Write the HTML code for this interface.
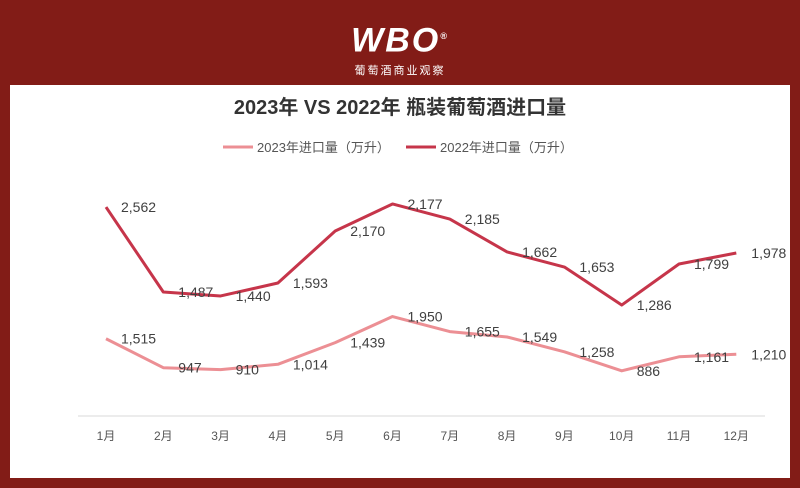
<!DOCTYPE html>
<html><head><meta charset="utf-8"><style>
body{margin:0;width:800px;height:488px;background:#821c17;font-family:"Liberation Sans","Noto Sans CJK SC",sans-serif;overflow:hidden}
#panel{position:absolute;left:10px;top:85px;width:780px;height:393px;background:#fff}
</style></head><body>
<div style="position:absolute;left:0;top:18px;width:800px;text-align:center;color:#fff">
<div style="font:italic bold 34px 'Liberation Sans',sans-serif;letter-spacing:2px;line-height:36px">WBO<sup style="font-size:9px">®</sup></div>
<div style="font-size:11px;letter-spacing:2px;margin-top:4px">葡萄酒商业观察</div></div>
<div id="panel"></div>
<svg width="800" height="488" style="position:absolute;left:0;top:0" id="chart">
<text x="400" y="114" text-anchor="middle" font-size="20" font-weight="bold" fill="#333">2023年 VS 2022年 瓶装葡萄酒进口量</text>
<g><line x1="223" y1="147" x2="253" y2="147" stroke="#ec8f94" stroke-width="3"/><text x="257" y="152" font-size="13" fill="#555">2023年进口量（万升）</text></g>
<g><line x1="406" y1="147" x2="436" y2="147" stroke="#c6354a" stroke-width="3"/><text x="440" y="152" font-size="13" fill="#555">2022年进口量（万升）</text></g>
<line x1="78" y1="416" x2="765" y2="416" stroke="#d9d9d9" stroke-width="1"/>
</svg>
<script>
const months=["1月","2月","3月","4月","5月","6月","7月","8月","9月","10月","11月","12月"];
const values2023=[1515,947,910,1014,1439,1950,1655,1549,1258,886,1161,1210];
const labels2023=["1,515","947","910","1,014","1,439","1,950","1,655","1,549","1,258","886","1,161","1,210"];
const values2022=[2562,1456,1404,1573,2250,2602,2406,1977,1781,1286,1820,1964];
const labels2022=["2,562","1,487","1,440","1,593","2,170","2,177","2,185","1,662","1,653","1,286","1,799","1,978"];
const svg=document.getElementById('chart');const NS="http://www.w3.org/2000/svg";
function xs(i){return 106+i*57.3;}
function y1(v){return 416-v*0.051;}
function y2(v){return 403.8-v*0.0768;}
months.forEach((m,i)=>{const t=document.createElementNS(NS,'text');
t.setAttribute('x',xs(i));t.setAttribute('y',440);t.setAttribute('text-anchor','middle');t.setAttribute('font-size','12');t.setAttribute('fill','#555');t.textContent=m;


svg.appendChild(t);});
function series(vals,labs,yf,color,name){
const p=document.createElementNS(NS,'polyline');
p.setAttribute('points',vals.map((v,i)=>xs(i)+','+yf(v)).join(' '));
p.setAttribute('fill','none');p.setAttribute('stroke',color);p.setAttribute('stroke-width','3');p.setAttribute('stroke-linejoin','round');


svg.appendChild(p);
vals.forEach((v,i)=>{const t=document.createElementNS(NS,'text');
t.setAttribute('x',xs(i)+15);t.setAttribute('y',yf(v)+5);t.setAttribute('font-size','14');t.setAttribute('fill','#404040');t.textContent=labs[i];


svg.appendChild(t);});}
series(values2023,labels2023,y1,'#ec8f94','line-2023');
series(values2022,labels2022,y2,'#c6354a','line-2022');
</script>
</body></html>
